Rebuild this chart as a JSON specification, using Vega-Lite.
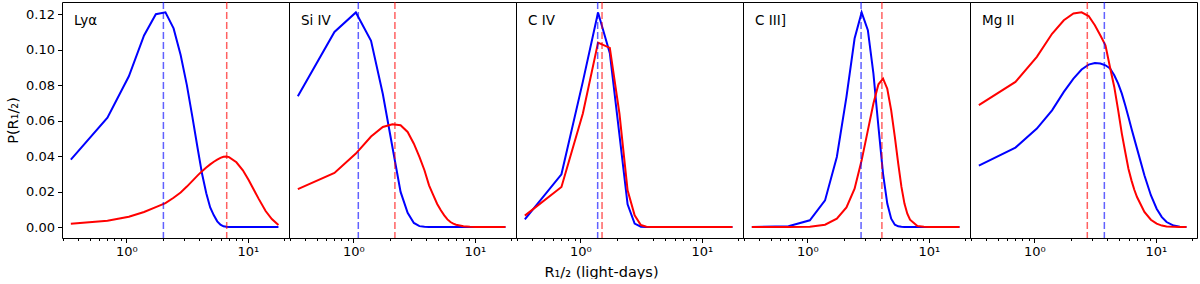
{
"$schema": "https://vega.github.io/schema/vega-lite/v6.json",
"padding": {"left": 5, "top": 0, "right": 4, "bottom": 0},
"background": "white",
"config": {"font": "DejaVu Sans", "view": {"stroke": "#000", "strokeWidth": 1}, "axis": {"labelOverlap": false, "labelSeparation": 0}, "axisY": {"labelOverlap": false, "labelFlush": false}, "axisLeft": {"labelOverlap": false}, "axisQuantitative": {"labelOverlap": false}},
"title": {"text": "R₁/₂ (light-days)", "orient": "bottom", "anchor": "middle", "fontSize": 14.5, "fontWeight": "normal", "font": "DejaVu Sans", "color": "#000", "offset": 7},
"data": {"values": [
{"panel":"Lyα","kind":"pdf","r":0.35,"blue":0.038,"red":0.0019},
{"panel":"Lyα","kind":"pdf","r":0.7,"blue":0.0617,"red":0.0035},
{"panel":"Lyα","kind":"pdf","r":1.05,"blue":0.085,"red":0.0058},
{"panel":"Lyα","kind":"pdf","r":1.4,"blue":0.108,"red":0.0085},
{"panel":"Lyα","kind":"pdf","r":1.75,"blue":0.120,"red":0.0112},
{"panel":"Lyα","kind":"pdf","r":2.1,"blue":0.1211,"red":0.0135},
{"panel":"Lyα","kind":"pdf","r":2.45,"blue":0.112,"red":0.0165},
{"panel":"Lyα","kind":"pdf","r":2.8,"blue":0.097,"red":0.0195},
{"panel":"Lyα","kind":"pdf","r":3.15,"blue":0.080,"red":0.0228},
{"panel":"Lyα","kind":"pdf","r":3.5,"blue":0.062,"red":0.026},
{"panel":"Lyα","kind":"pdf","r":3.85,"blue":0.045,"red":0.029},
{"panel":"Lyα","kind":"pdf","r":4.2,"blue":0.030,"red":0.0315},
{"panel":"Lyα","kind":"pdf","r":4.55,"blue":0.019,"red":0.0335},
{"panel":"Lyα","kind":"pdf","r":4.9,"blue":0.011,"red":0.0353},
{"panel":"Lyα","kind":"pdf","r":5.25,"blue":0.0066,"red":0.0368},
{"panel":"Lyα","kind":"pdf","r":5.6,"blue":0.0032,"red":0.038},
{"panel":"Lyα","kind":"pdf","r":5.95,"blue":0.0013,"red":0.039},
{"panel":"Lyα","kind":"pdf","r":6.3,"blue":0.0004,"red":0.0396},
{"panel":"Lyα","kind":"pdf","r":6.65,"blue":0.0001,"red":0.0398},
{"panel":"Lyα","kind":"pdf","r":7,"blue":0,"red":0.0394},
{"panel":"Lyα","kind":"pdf","r":8.05,"blue":0,"red":0.0365},
{"panel":"Lyα","kind":"pdf","r":9.1,"blue":0,"red":0.032},
{"panel":"Lyα","kind":"pdf","r":10.15,"blue":0,"red":0.0265},
{"panel":"Lyα","kind":"pdf","r":11.2,"blue":0,"red":0.021},
{"panel":"Lyα","kind":"pdf","r":12.25,"blue":0,"red":0.016},
{"panel":"Lyα","kind":"pdf","r":14,"blue":0,"red":0.009},
{"panel":"Lyα","kind":"pdf","r":15.75,"blue":0,"red":0.0045},
{"panel":"Lyα","kind":"pdf","r":17.85,"blue":0,"red":0.0012},
{"panel":"Si IV","kind":"pdf","r":0.35,"blue":0.0737,"red":0.0214},
{"panel":"Si IV","kind":"pdf","r":0.7,"blue":0.110,"red":0.0305},
{"panel":"Si IV","kind":"pdf","r":1.05,"blue":0.121,"red":0.0414},
{"panel":"Si IV","kind":"pdf","r":1.4,"blue":0.105,"red":0.051},
{"panel":"Si IV","kind":"pdf","r":1.75,"blue":0.075,"red":0.0564},
{"panel":"Si IV","kind":"pdf","r":2.1,"blue":0.045,"red":0.058},
{"panel":"Si IV","kind":"pdf","r":2.45,"blue":0.0198,"red":0.0574},
{"panel":"Si IV","kind":"pdf","r":2.8,"blue":0.008,"red":0.0536},
{"panel":"Si IV","kind":"pdf","r":3.15,"blue":0.0023,"red":0.047},
{"panel":"Si IV","kind":"pdf","r":3.5,"blue":0.0005,"red":0.0395},
{"panel":"Si IV","kind":"pdf","r":3.85,"blue":0.0001,"red":0.032},
{"panel":"Si IV","kind":"pdf","r":4.2,"blue":0,"red":0.0235},
{"panel":"Si IV","kind":"pdf","r":4.55,"blue":0,"red":0.018},
{"panel":"Si IV","kind":"pdf","r":4.9,"blue":0,"red":0.013},
{"panel":"Si IV","kind":"pdf","r":5.25,"blue":0,"red":0.0094},
{"panel":"Si IV","kind":"pdf","r":5.6,"blue":0,"red":0.0066},
{"panel":"Si IV","kind":"pdf","r":5.95,"blue":0,"red":0.0043},
{"panel":"Si IV","kind":"pdf","r":6.3,"blue":0,"red":0.0028},
{"panel":"Si IV","kind":"pdf","r":6.65,"blue":0,"red":0.0019},
{"panel":"Si IV","kind":"pdf","r":7,"blue":0,"red":0.0013},
{"panel":"Si IV","kind":"pdf","r":8.05,"blue":0,"red":0.0004},
{"panel":"Si IV","kind":"pdf","r":9.1,"blue":0,"red":0.0001},
{"panel":"Si IV","kind":"pdf","r":10.15,"blue":0,"red":0},
{"panel":"Si IV","kind":"pdf","r":11.2,"blue":0,"red":0},
{"panel":"Si IV","kind":"pdf","r":12.25,"blue":0,"red":0},
{"panel":"Si IV","kind":"pdf","r":14,"blue":0,"red":0},
{"panel":"Si IV","kind":"pdf","r":15.75,"blue":0,"red":0},
{"panel":"Si IV","kind":"pdf","r":17.85,"blue":0,"red":0},
{"panel":"C IV","kind":"pdf","r":0.35,"blue":0.0043,"red":0.0064},
{"panel":"C IV","kind":"pdf","r":0.7,"blue":0.0297,"red":0.0226},
{"panel":"C IV","kind":"pdf","r":1.05,"blue":0.082,"red":0.064},
{"panel":"C IV","kind":"pdf","r":1.4,"blue":0.121,"red":0.104},
{"panel":"C IV","kind":"pdf","r":1.75,"blue":0.098,"red":0.101},
{"panel":"C IV","kind":"pdf","r":2.1,"blue":0.052,"red":0.064},
{"panel":"C IV","kind":"pdf","r":2.45,"blue":0.0128,"red":0.0207},
{"panel":"C IV","kind":"pdf","r":2.8,"blue":0.0019,"red":0.0066},
{"panel":"C IV","kind":"pdf","r":3.15,"blue":0.0002,"red":0.0011},
{"panel":"C IV","kind":"pdf","r":3.5,"blue":0,"red":0.0002},
{"panel":"C IV","kind":"pdf","r":3.85,"blue":0,"red":0},
{"panel":"C IV","kind":"pdf","r":4.2,"blue":0,"red":0},
{"panel":"C IV","kind":"pdf","r":4.55,"blue":0,"red":0},
{"panel":"C IV","kind":"pdf","r":4.9,"blue":0,"red":0},
{"panel":"C IV","kind":"pdf","r":5.25,"blue":0,"red":0},
{"panel":"C IV","kind":"pdf","r":5.6,"blue":0,"red":0},
{"panel":"C IV","kind":"pdf","r":5.95,"blue":0,"red":0},
{"panel":"C IV","kind":"pdf","r":6.3,"blue":0,"red":0},
{"panel":"C IV","kind":"pdf","r":6.65,"blue":0,"red":0},
{"panel":"C IV","kind":"pdf","r":7,"blue":0,"red":0},
{"panel":"C IV","kind":"pdf","r":8.05,"blue":0,"red":0},
{"panel":"C IV","kind":"pdf","r":9.1,"blue":0,"red":0},
{"panel":"C IV","kind":"pdf","r":10.15,"blue":0,"red":0},
{"panel":"C IV","kind":"pdf","r":11.2,"blue":0,"red":0},
{"panel":"C IV","kind":"pdf","r":12.25,"blue":0,"red":0},
{"panel":"C IV","kind":"pdf","r":14,"blue":0,"red":0},
{"panel":"C IV","kind":"pdf","r":15.75,"blue":0,"red":0},
{"panel":"C IV","kind":"pdf","r":17.85,"blue":0,"red":0},
{"panel":"C III]","kind":"pdf","r":0.35,"blue":0,"red":0},
{"panel":"C III]","kind":"pdf","r":0.7,"blue":0.0004,"red":0},
{"panel":"C III]","kind":"pdf","r":1.05,"blue":0.0038,"red":0.0002},
{"panel":"C III]","kind":"pdf","r":1.4,"blue":0.015,"red":0.0013},
{"panel":"C III]","kind":"pdf","r":1.75,"blue":0.0395,"red":0.0047},
{"panel":"C III]","kind":"pdf","r":2.1,"blue":0.0734,"red":0.011},
{"panel":"C III]","kind":"pdf","r":2.45,"blue":0.1063,"red":0.0216},
{"panel":"C III]","kind":"pdf","r":2.8,"blue":0.121,"red":0.0376},
{"panel":"C III]","kind":"pdf","r":3.15,"blue":0.111,"red":0.0545},
{"panel":"C III]","kind":"pdf","r":3.5,"blue":0.0865,"red":0.0696},
{"panel":"C III]","kind":"pdf","r":3.85,"blue":0.0564,"red":0.0805},
{"panel":"C III]","kind":"pdf","r":4.2,"blue":0.030,"red":0.0837},
{"panel":"C III]","kind":"pdf","r":4.55,"blue":0.0132,"red":0.078},
{"panel":"C III]","kind":"pdf","r":4.9,"blue":0.0047,"red":0.0658},
{"panel":"C III]","kind":"pdf","r":5.25,"blue":0.0013,"red":0.0508},
{"panel":"C III]","kind":"pdf","r":5.6,"blue":0.0004,"red":0.0357},
{"panel":"C III]","kind":"pdf","r":5.95,"blue":0.0001,"red":0.0226},
{"panel":"C III]","kind":"pdf","r":6.3,"blue":0,"red":0.0132},
{"panel":"C III]","kind":"pdf","r":6.65,"blue":0,"red":0.0075},
{"panel":"C III]","kind":"pdf","r":7,"blue":0,"red":0.0041},
{"panel":"C III]","kind":"pdf","r":8.05,"blue":0,"red":0.0006},
{"panel":"C III]","kind":"pdf","r":9.1,"blue":0,"red":0.0001},
{"panel":"C III]","kind":"pdf","r":10.15,"blue":0,"red":0},
{"panel":"C III]","kind":"pdf","r":11.2,"blue":0,"red":0},
{"panel":"C III]","kind":"pdf","r":12.25,"blue":0,"red":0},
{"panel":"C III]","kind":"pdf","r":14,"blue":0,"red":0},
{"panel":"C III]","kind":"pdf","r":15.75,"blue":0,"red":0},
{"panel":"C III]","kind":"pdf","r":17.85,"blue":0,"red":0},
{"panel":"Mg II","kind":"pdf","r":0.35,"blue":0.0346,"red":0.0687},
{"panel":"Mg II","kind":"pdf","r":0.7,"blue":0.0448,"red":0.0818},
{"panel":"Mg II","kind":"pdf","r":1.05,"blue":0.0555,"red":0.096},
{"panel":"Mg II","kind":"pdf","r":1.4,"blue":0.0658,"red":0.109},
{"panel":"Mg II","kind":"pdf","r":1.75,"blue":0.0762,"red":0.1166},
{"panel":"Mg II","kind":"pdf","r":2.1,"blue":0.0837,"red":0.1204},
{"panel":"Mg II","kind":"pdf","r":2.45,"blue":0.0888,"red":0.1211},
{"panel":"Mg II","kind":"pdf","r":2.8,"blue":0.0916,"red":0.119},
{"panel":"Mg II","kind":"pdf","r":3.15,"blue":0.0925,"red":0.1138},
{"panel":"Mg II","kind":"pdf","r":3.5,"blue":0.0922,"red":0.108},
{"panel":"Mg II","kind":"pdf","r":3.85,"blue":0.0912,"red":0.1025},
{"panel":"Mg II","kind":"pdf","r":4.2,"blue":0.0894,"red":0.090},
{"panel":"Mg II","kind":"pdf","r":4.55,"blue":0.0856,"red":0.079},
{"panel":"Mg II","kind":"pdf","r":4.9,"blue":0.0809,"red":0.0658},
{"panel":"Mg II","kind":"pdf","r":5.25,"blue":0.0752,"red":0.0527},
{"panel":"Mg II","kind":"pdf","r":5.6,"blue":0.0687,"red":0.0423},
{"panel":"Mg II","kind":"pdf","r":5.95,"blue":0.0621,"red":0.0329},
{"panel":"Mg II","kind":"pdf","r":6.3,"blue":0.0555,"red":0.0263},
{"panel":"Mg II","kind":"pdf","r":6.65,"blue":0.0497,"red":0.021},
{"panel":"Mg II","kind":"pdf","r":7,"blue":0.0442,"red":0.0169},
{"panel":"Mg II","kind":"pdf","r":8.05,"blue":0.0292,"red":0.0085},
{"panel":"Mg II","kind":"pdf","r":9.1,"blue":0.0179,"red":0.0041},
{"panel":"Mg II","kind":"pdf","r":10.15,"blue":0.0103,"red":0.0019},
{"panel":"Mg II","kind":"pdf","r":11.2,"blue":0.0056,"red":0.0008},
{"panel":"Mg II","kind":"pdf","r":12.25,"blue":0.0028,"red":0.0003},
{"panel":"Mg II","kind":"pdf","r":14,"blue":0.0008,"red":0.0001},
{"panel":"Mg II","kind":"pdf","r":15.75,"blue":0.0002,"red":0},
{"panel":"Mg II","kind":"pdf","r":17.85,"blue":0,"red":0},
{"panel":"Lyα","kind":"peak","blue":2.02,"red":6.70},
{"panel":"Si IV","kind":"peak","blue":1.10,"red":2.20},
{"panel":"C IV","kind":"peak","blue":1.39,"red":1.51},
{"panel":"C III]","kind":"peak","blue":2.77,"red":4.11},
{"panel":"Mg II","kind":"peak","blue":3.77,"red":2.73}
]},
"facet": {"column": {"field": "panel", "type": "nominal", "sort": ["Lyα","Si IV","C IV","C III]","Mg II"], "title": null, "header": {"labels": false, "title": null}}},
"spacing": 0,
"bounds": "flush",
"spec": {
 "width": 227,
 "height": 236,
 "layer": [
  {
   "transform": [{"filter": "datum.kind == 'pdf'"}, {"fold": ["blue","red"], "as": ["series","p"]}],
   "mark": {"type": "line", "strokeWidth": 2, "clip": true},
   "encoding": {
    "x": {"field": "r", "type": "quantitative", "title": null,
      "scale": {"type": "log", "domain": [0.296, 21.8], "nice": false},
      "axis": {"title": null, "grid": false, "domain": false,
        "values": [0.3,0.4,0.5,0.6,0.7,0.8,0.9,1,2,3,4,5,6,7,8,9,10,20],
        "labelExpr": "datum.value == 1 ? '10⁰' : (datum.value == 10 ? '10¹' : '')",
        "labelOverlap": false, "labelFlush": false, "labelBound": false,
        "tickColor": "#000", "tickWidth": 1,
        "tickSize": {"condition": {"test": "datum.value == 1 || datum.value == 10", "value": 4.5}, "value": 2.5},
        "labelFontSize": 13, "labelColor": "#000", "labelFont": "DejaVu Sans", "labelPadding": 3}},
    "y": {"field": "p", "type": "quantitative", "title": "P(R₁/₂)",
      "scale": {"domain": [-0.0062, 0.1269], "nice": false, "zero": false},
      "axis": {"grid": false, "domain": false, "values": [0,0.02,0.04,0.06,0.08,0.1,0.12],
        "labelExpr": "format(datum.value, '.2f')", "tickCount": 7,
        "labelOverlap": false, "labelFlush": false, "labelBound": false, "labelSeparation": 0,
        "tickColor": "#000", "tickWidth": 1, "tickSize": 4.5, "labelFontSize": 13, "labelColor": "#000", "labelFont": "DejaVu Sans", "labelPadding": 3,
        "titleFontSize": 14.5, "titleFontWeight": "normal", "titleColor": "#000", "titleFont": "DejaVu Sans", "titlePadding": 5}},
    "color": {"field": "series", "type": "nominal", "scale": {"domain": ["blue","red"], "range": ["#0000ff","#ff0000"]}, "legend": null}
   }
  },
  {
   "transform": [{"filter": "datum.kind == 'peak'"}, {"fold": ["blue","red"], "as": ["series","rpk"]}],
   "mark": {"type": "rule", "strokeWidth": 1.5, "strokeDash": [7,3], "opacity": 0.62},
   "encoding": {
    "x": {"field": "rpk", "type": "quantitative", "title": null},
    "color": {"field": "series", "type": "nominal", "legend": null}
   }
  },
  {
   "transform": [{"filter": "datum.kind == 'peak'"}],
   "mark": {"type": "text", "align": "left", "baseline": "alphabetic", "fontSize": 13.5, "font": "DejaVu Sans", "color": "#000"},
   "encoding": {
    "text": {"field": "panel"},
    "x": {"datum": 0.3715},
    "y": {"datum": 0.1137, "axis": {"grid": false, "domain": false, "values": [0,0.02,0.04,0.06,0.08,0.1,0.12], "labelOverlap": false}}
   }
  }
 ]
},
"resolve": {"scale": {"x": "shared", "y": "shared"}}
}
